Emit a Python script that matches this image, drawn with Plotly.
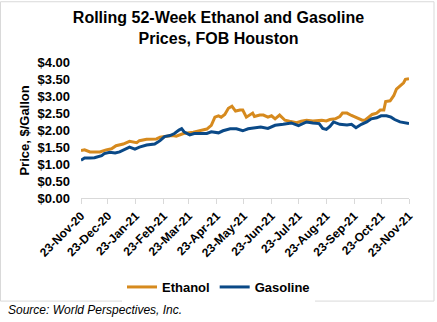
import plotly.graph_objects as go

# Ethanol (date, $/gal)
eth_dates = ["2020-11-23","2020-11-27","2020-12-03","2020-12-08","2020-12-14","2020-12-21","2020-12-27",
             "2021-01-01","2021-01-09","2021-01-16","2021-01-24","2021-01-27","2021-02-04","2021-02-15",
             "2021-02-19","2021-02-26","2021-03-05","2021-03-09","2021-03-17","2021-03-28","2021-04-04",
             "2021-04-12","2021-04-17","2021-04-21","2021-04-25","2021-04-28","2021-05-02","2021-05-06",
             "2021-05-10","2021-05-14","2021-05-19","2021-05-22","2021-05-26","2021-06-02","2021-06-04",
             "2021-06-10","2021-06-14","2021-06-19","2021-06-23","2021-06-27","2021-07-02","2021-07-08",
             "2021-07-13","2021-07-21","2021-07-26","2021-08-01","2021-08-08","2021-08-18","2021-08-23",
             "2021-08-27","2021-09-02","2021-09-07","2021-09-10","2021-09-15","2021-09-20","2021-09-26",
             "2021-10-02","2021-10-05","2021-10-09","2021-10-13","2021-10-18","2021-10-22","2021-10-26",
             "2021-10-28","2021-11-02","2021-11-06","2021-11-09","2021-11-13","2021-11-17","2021-11-19",
             "2021-11-23"]
eth_vals = [1.40,1.42,1.36,1.35,1.36,1.42,1.45,
            1.54,1.59,1.67,1.63,1.69,1.73,1.74,
            1.79,1.82,1.84,1.82,1.90,1.94,1.98,
            2.03,2.14,2.38,2.42,2.38,2.46,2.64,
            2.70,2.56,2.59,2.59,2.38,2.50,2.40,
            2.44,2.44,2.38,2.42,2.33,2.44,2.29,
            2.26,2.22,2.26,2.29,2.27,2.29,2.27,
            2.31,2.33,2.40,2.50,2.50,2.43,2.35,
            2.29,2.29,2.38,2.46,2.50,2.59,2.59,
            2.84,2.86,3.01,3.20,3.29,3.39,3.49,
            3.51]

# Gasoline (date, $/gal)
gas_dates = ["2020-11-23","2020-11-27","2020-12-03","2020-12-08","2020-12-16","2020-12-19","2020-12-25",
             "2020-12-31","2021-01-05","2021-01-11","2021-01-16","2021-01-22","2021-01-27","2021-02-04",
             "2021-02-13","2021-02-19","2021-02-24","2021-03-02","2021-03-07","2021-03-12","2021-03-15",
             "2021-03-18","2021-03-24","2021-03-29","2021-04-04","2021-04-12","2021-04-17","2021-04-25",
             "2021-04-30","2021-05-08","2021-05-15","2021-05-22","2021-05-28","2021-06-04","2021-06-11",
             "2021-06-19","2021-06-27","2021-07-06","2021-07-15","2021-07-23","2021-08-01","2021-08-08",
             "2021-08-15","2021-08-19","2021-08-23","2021-08-27","2021-08-31","2021-09-07","2021-09-15",
             "2021-09-20","2021-09-25","2021-10-01","2021-10-07","2021-10-12","2021-10-18","2021-10-23",
             "2021-10-29","2021-11-03","2021-11-07","2021-11-13","2021-11-18","2021-11-23"]
gas_vals = [1.115,1.18,1.18,1.19,1.25,1.31,1.35,
            1.33,1.36,1.44,1.50,1.44,1.50,1.56,
            1.59,1.69,1.81,1.84,1.90,2.00,2.04,
            1.94,1.86,1.90,1.90,1.90,1.95,1.92,
            1.98,2.04,2.04,1.98,2.04,2.07,2.09,
            2.05,2.14,2.17,2.21,2.13,2.24,2.21,
            2.19,2.05,2.02,2.11,2.24,2.17,2.15,
            2.17,2.07,2.17,2.24,2.33,2.36,2.42,
            2.42,2.38,2.31,2.24,2.21,2.19]

tick_dates = ["2020-11-23","2020-12-23","2021-01-23","2021-02-23","2021-03-23","2021-04-23","2021-05-23",
              "2021-06-23","2021-07-23","2021-08-23","2021-09-23","2021-10-23","2021-11-23"]
tick_labels = ["23-Nov-20","23-Dec-20","23-Jan-21","23-Feb-21","23-Mar-21","23-Apr-21","23-May-21",
               "23-Jun-21","23-Jul-21","23-Aug-21","23-Sep-21","23-Oct-21","23-Nov-21"]
y_ticks = [0, 0.5, 1.0, 1.5, 2.0, 2.5, 3.0, 3.5, 4.0]
y_labels = ["$0.00","$0.50","$1.00","$1.50","$2.00","$2.50","$3.00","$3.50","$4.00"]

W, H = 437, 322
L, R, T, B = 81, 28, 62, 121
pw, ph = W - L - R, H - T - B

FONT = "Liberation Sans, Arial, sans-serif"
ORANGE = "#D68A1E"
BLUE = "#0A4987"

fig = go.Figure()
fig.add_trace(go.Scatter(x=eth_dates, y=eth_vals, mode="lines", name="<b>Ethanol</b>",
                         line=dict(color=ORANGE, width=3)))
fig.add_trace(go.Scatter(x=gas_dates, y=gas_vals, mode="lines", name="<b>Gasoline</b>",
                         line=dict(color=BLUE, width=3)))

def px_x(p):
    return (p - L) / pw

def px_y(p):
    return (H - B - p) / ph

fig.update_layout(
    width=W, height=H,
    margin=dict(l=L, r=R, t=T, b=B, pad=0),
    paper_bgcolor="white", plot_bgcolor="white",
    font=dict(family=FONT, color="black"),
    title=dict(text="<b>Rolling 52-Week Ethanol and Gasoline<br>Prices, FOB Houston</b>",
               x=0.5, xanchor="center", xref="container",
               y=1 - 23 / H, yanchor="top", yref="container",
               font=dict(size=16, family=FONT, color="black")),
    showlegend=True,
    legend=dict(orientation="h", xref="container", x=0.5, xanchor="center",
                yref="container", y=1 - 287 / H, yanchor="middle",
                font=dict(size=13, family=FONT, color="black"),
                itemwidth=30, tracegroupgap=0),
    xaxis=dict(range=["2020-11-23", "2021-11-23"], tickmode="array",
               tickvals=tick_dates, ticktext=["<b>%s</b>" % t for t in tick_labels],
               tickangle=-45, tickfont=dict(size=12, family=FONT, color="black"),
               ticks="outside", ticklen=5, tickcolor="#d9d9d9", tickwidth=1,
               showline=True, linecolor="#d9d9d9", linewidth=1,
               showgrid=False, zeroline=False, fixedrange=True),
    yaxis=dict(range=[0, 4], tickmode="array", tickvals=y_ticks,
               ticktext=["<b>%s</b>" % t for t in y_labels],
               tickfont=dict(size=13, family=FONT, color="black"),
               ticks="", showline=False, showgrid=False, zeroline=False,
               ticklabelstandoff=10, fixedrange=True),
    shapes=[dict(type="rect", xref="paper", yref="paper",
                 x0=px_x(0.5), x1=px_x(434), y0=px_y(306), y1=px_y(0.5),
                 line=dict(color="#d9d9d9", width=1), layer="below")],
    annotations=[
        dict(text="<b>Price, $/Gallon</b>", xref="paper", yref="paper",
             x=px_x(25), y=px_y(132), textangle=-90, showarrow=False,
             xanchor="center", yanchor="middle",
             font=dict(size=13, family=FONT, color="black")),
        dict(text="<i>Source: World Perspectives, Inc.</i>", xref="paper", yref="paper",
             x=px_x(6), y=px_y(315), xanchor="left", yanchor="middle", showarrow=False,
             font=dict(size=12, family=FONT, color="black")),
    ],
)

fig.write_html("out.html")
